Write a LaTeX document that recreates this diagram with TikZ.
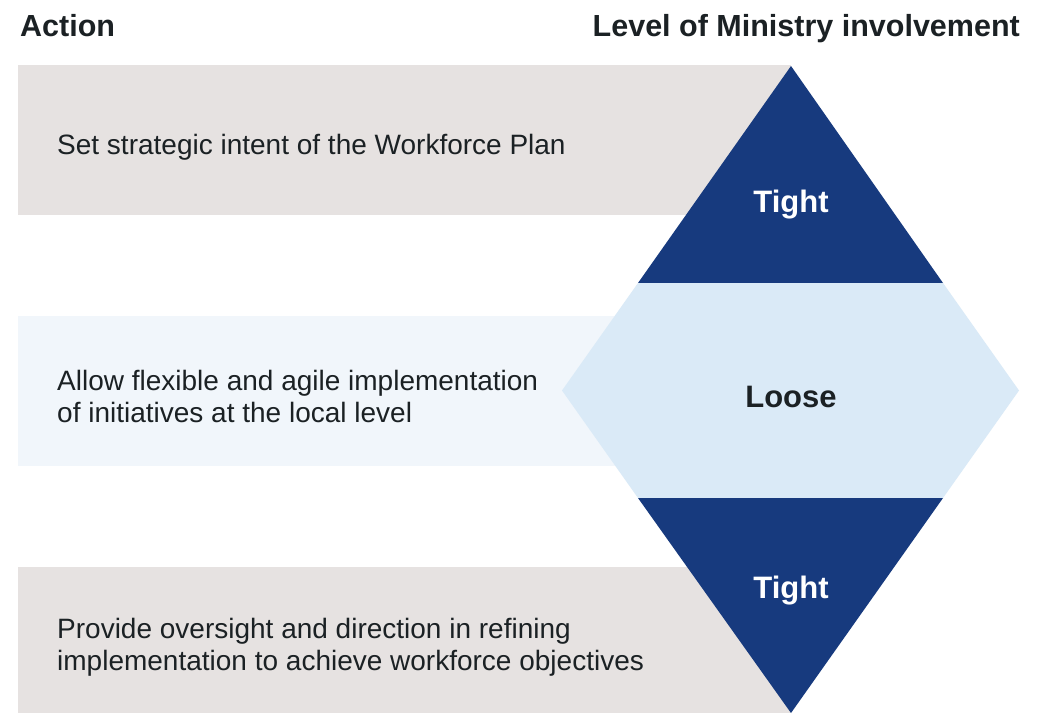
\documentclass[tikz,border=0pt]{standalone}
\usepackage{fontspec}
\setmainfont{Liberation Sans}
\definecolor{bandgray}{HTML}{E6E2E1}
\definecolor{bandlight}{HTML}{F1F6FB}
\definecolor{navy}{HTML}{173A7E}
\definecolor{pale}{HTML}{DAEAF7}
\definecolor{ink}{HTML}{1B2124}
\begin{document}
\begin{tikzpicture}[x=1pt,y=-1pt,
  head/.style={font=\fontsize{30.5}{34}\selectfont\bfseries, text=ink, inner sep=0pt},
  act/.style={font=\fontsize{28}{32}\selectfont, text=ink, align=left, anchor=west, inner sep=0pt},
  lvl/.style={font=\fontsize{31}{34}\selectfont\bfseries, inner sep=0pt}]
\useasboundingbox[fill=white] (0,0) rectangle (1047,713);
% bands
\fill[bandgray] (18,65) rectangle (791,215);
\fill[bandlight] (18,316) rectangle (700,466);
\fill[bandgray] (18,567) rectangle (791,713);
% diamond
\fill[navy] (791,66) -- (943,283) -- (638,283) -- cycle;
\fill[pale] (638,283) -- (943,283) -- (1019,390.5) -- (943,498) -- (638,498) -- (562,390.5) -- cycle;
\fill[navy] (638,498) -- (943,498) -- (791,713) -- cycle;
% headings
\node[head, anchor=base west] (hact) at (20,36) {Action};
\node[head, anchor=base east] (hlvl) at (1020,36) {Level of Ministry involvement};
% actions
\node[act] (a1) at (57,147) {Set strategic intent of the Workforce Plan};
\node[act] (a2) at (57,396) {Allow flexible and agile implementation\\of initiatives at the local level};
\node[act] (a3) at (57,647) {Provide oversight and direction in refining\\implementation to achieve workforce objectives};
% levels
\node[lvl, text=white] (l1) at (791,205) {Tight};
\node[lvl, text=ink] (l2) at (791,397) {Loose};
\node[lvl, text=white] (l3) at (791,591) {Tight};
\end{tikzpicture}
\end{document}
